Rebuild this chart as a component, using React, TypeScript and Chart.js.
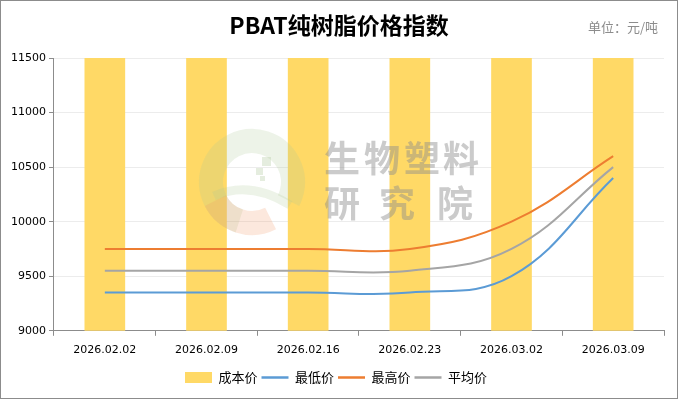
import { useEffect, useRef } from "react";
import { Chart, registerables } from "chart.js";

Chart.register(...registerables);

const categories = ["2026.02.02", "2026.02.09", "2026.02.16", "2026.02.23", "2026.03.02", "2026.03.09"];
const costPrice = [11500, 11500, 11500, 11500, 11500, 11500];
const lowPrice = [9350, 9350, 9350, 9350, 9500, 10400];
const highPrice = [9750, 9750, 9750, 9750, 10000, 10600];
const avgPrice = [9550, 9550, 9550, 9550, 9750, 10500];
const yMin = 9000;
const yMax = 11500;
const yStep = 500;

const titleText = "PBAT纯树脂价格指数";
const unitText = "单位：元/吨";
const watermarkTop = "生物塑料";
const watermarkBottom = ["研", "究", "院"];

const CJK = '"Noto Sans CJK SC", "Noto Sans", sans-serif';
const NUM = '"DejaVu Sans", sans-serif';

const decorPlugin = {
  id: "decor",
  afterDatasetsDraw(chart: any) {
    const ctx = chart.ctx;
    ctx.save();
    // logo ring
    ctx.lineWidth = 24;
    ctx.strokeStyle = "rgba(175,200,150,0.22)";
    ctx.beginPath();
    ctx.arc(252, 182, 41, Math.PI * 0.6, Math.PI * 2.15);
    ctx.stroke();
    ctx.strokeStyle = "rgba(240,150,100,0.22)";
    ctx.beginPath();
    ctx.arc(252, 182, 41, Math.PI * 0.35, Math.PI * 0.85);
    ctx.stroke();
    ctx.fillStyle = "rgba(170,195,150,0.3)";
    ctx.fillRect(262, 157, 9, 9);
    ctx.fillRect(256, 168, 7, 7);
    ctx.fillRect(260, 176, 5, 5);
    // wave
    ctx.strokeStyle = "rgba(175,200,150,0.22)";
    ctx.lineWidth = 9;
    ctx.beginPath();
    ctx.moveTo(214, 196);
    ctx.quadraticCurveTo(250, 180, 290, 205);
    ctx.stroke();
    // text
    ctx.fillStyle = "rgba(140,140,140,0.45)";
    ctx.font = `bold 36px ${CJK}`;
    ctx.textBaseline = "middle";
    ctx.textAlign = "center";
    const topChars = watermarkTop.split("");
    const topX = [342, 382, 422, 461];
    topChars.forEach((c, i) => ctx.fillText(c, topX[i], 158));
    const botX = [342, 397, 455];
    watermarkBottom.forEach((c, i) => ctx.fillText(c, botX[i], 203));
    ctx.restore();
  },
  afterDraw(chart: any) {
    const ctx = chart.ctx;
    ctx.save();
    ctx.fillStyle = "#000";
    ctx.font = `bold 23px ${CJK}`;
    ctx.textAlign = "center";
    ctx.textBaseline = "middle";
    ctx.fillText(titleText, 339, 25);
    ctx.fillStyle = "#8c8c8c";
    ctx.font = `13px ${CJK}`;
    ctx.textAlign = "right";
    ctx.fillText(unitText, 658, 27);
    ctx.strokeStyle = "#8c8c8c";
    ctx.lineWidth = 1;
    ctx.strokeRect(0.5, 0.5, 677, 398);
    ctx.restore();
  },
};

export default function App() {
  const ref = useRef<HTMLCanvasElement>(null);
  useEffect(() => {
    document.body.style.margin = "0";
    const chart = new Chart(ref.current as HTMLCanvasElement, {
      type: "bar",
      data: {
        labels: categories,
        datasets: [
          {
            type: "bar",
            label: "成本价",
            data: costPrice,
            backgroundColor: "#FFD966",
            borderWidth: 0,
            barPercentage: 0.4,
            categoryPercentage: 1,
            order: 2,
          },
          {
            type: "line",
            label: "最低价",
            data: lowPrice,
            borderColor: "#5B9BD5",
            backgroundColor: "#5B9BD5",
            borderWidth: 2,
            pointRadius: 0,
            tension: 0.4,
            order: 1,
          },
          {
            type: "line",
            label: "最高价",
            data: highPrice,
            borderColor: "#ED7D31",
            backgroundColor: "#ED7D31",
            borderWidth: 2,
            pointRadius: 0,
            tension: 0.4,
            order: 1,
          },
          {
            type: "line",
            label: "平均价",
            data: avgPrice,
            borderColor: "#A5A5A5",
            backgroundColor: "#A5A5A5",
            borderWidth: 2,
            pointRadius: 0,
            tension: 0.4,
            order: 1,
          },
        ] as any,
      },
      options: {
        responsive: false,
        animation: false,
        layout: { padding: { top: 58, left: 8, right: 14, bottom: 5 } },
        plugins: {
          title: { display: false },
          tooltip: { enabled: false },
          legend: {
            position: "bottom",
            labels: {
              color: "#000",
              font: { family: CJK, size: 13 },
              usePointStyle: true,
              pointStyleWidth: 27,
              boxWidth: 27,
              boxHeight: 11,
              padding: 4,
              generateLabels(chart: any) {
                return chart.data.datasets.map((ds: any, i: number) => ({
                  text: ds.label,
                  fillStyle: ds.type === "bar" ? ds.backgroundColor : ds.borderColor,
                  strokeStyle: ds.type === "bar" ? ds.backgroundColor : ds.borderColor,
                  lineWidth: ds.type === "bar" ? 0 : 2.5,
                  pointStyle: ds.type === "bar" ? "rect" : "line",
                  hidden: false,
                  datasetIndex: i,
                }));
              },
            },
          },
        },
        scales: {
          x: {
            offset: true,
            grid: {
              display: true,
              drawOnChartArea: false,
              offset: true,
              tickLength: 5,
              tickColor: "#8c8c8c",
            },
            border: { color: "#8c8c8c", width: 1 },
            ticks: { color: "#000", font: { family: NUM, size: 11 }, padding: 8, maxRotation: 0 },
            afterFit(scale: any) {
              scale.height += 2;
            },
          },
          y: {
            min: yMin,
            max: yMax,
            ticks: {
              stepSize: yStep,
              color: "#000",
              font: { family: NUM, size: 11 },
              padding: 3,
              callback: (v: any) => String(v),
            },
            grid: { color: "#ececec", tickLength: 5, tickColor: "#8c8c8c" },
            border: { color: "#8c8c8c", width: 1 },
          },
        },
      },
      plugins: [decorPlugin],
    });
    return () => chart.destroy();
  }, []);
  return (
    <div style={{ width: 678, height: 399 }}>
      <canvas ref={ref} width={678} height={399} />
    </div>
  );
}
